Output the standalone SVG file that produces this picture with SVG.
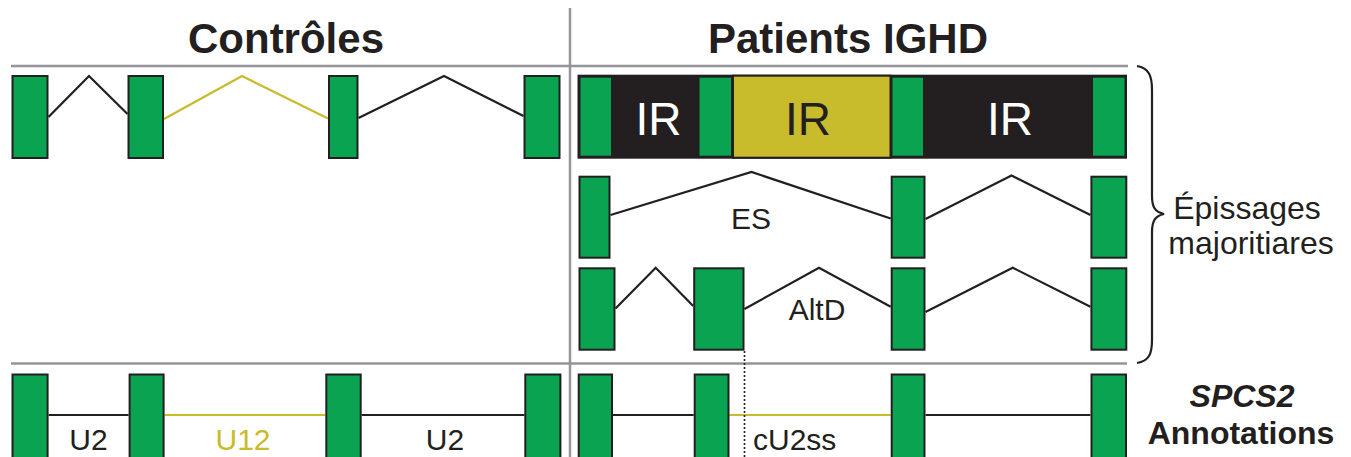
<svg xmlns="http://www.w3.org/2000/svg" width="1351" height="457" viewBox="0 0 1351 457">
<style>
.ex{fill:#0aa351;stroke:#231f20;stroke-width:2}
.ink{fill:none;stroke:#231f20;stroke-width:2.2;stroke-linejoin:miter}
.yel{fill:none;stroke:#c8bb2c;stroke-width:2.2}
.grid{stroke:#939598;stroke-width:2.5;fill:none}
.t{font-family:"Liberation Sans",Arial,sans-serif;fill:#231f20}
.title{font-size:42px;font-weight:bold;text-anchor:middle}
.lab{font-size:30px;text-anchor:middle}
</style>
<rect width="1351" height="457" fill="#ffffff"/>
<g id="dividers">
<line class="grid" x1="11" y1="66" x2="1128" y2="66"/>
<line class="grid" x1="11" y1="363.5" x2="1127" y2="363.5"/>
<line class="grid" x1="570" y1="8" x2="570" y2="457"/>
</g>
<g id="titles">
<text class="t title" x="286" y="53">Contrôles</text>
<text class="t title" x="848" y="53">Patients IGHD</text>
</g>
<g id="connectors">
<polyline class="ink" points="48.5,117 89,76 127.5,114"/>
<polyline class="yel" points="164,119 242,76 328,118.5"/>
<polyline class="ink" points="358.5,118 444,76 523.5,116"/>
<polyline class="ink" points="610.5,215 751.5,172 890.7,218.5"/>
<polyline class="ink" points="925.5,219 1011.5,175.5 1090.4,215"/>
<polyline class="ink" points="615.5,308.5 655.7,267.7 693.2,306"/>
<polyline class="ink" points="744.5,309 819,267.7 890.7,306.7"/>
<polyline class="ink" points="925.5,312 1012.7,267.7 1090.4,306.7"/>
<line class="ink" x1="48.6" y1="415" x2="128.6" y2="415"/>
<line class="yel" x1="164.6" y1="415" x2="325.3" y2="415"/>
<line class="ink" x1="361.7" y1="415" x2="524.3" y2="415"/>
<line class="ink" x1="613" y1="415" x2="693.7" y2="415"/>
<line class="yel" x1="729.5" y1="415" x2="890.7" y2="415"/>
<line class="ink" x1="925.5" y1="415" x2="1090.5" y2="415"/>
<line x1="744.5" y1="351" x2="744.5" y2="457" stroke="#231f20" stroke-width="1.6" stroke-dasharray="2,2"/>
</g>
<g id="controles-row">
<rect class="ex" x="12.5" y="76" width="35" height="82"/>
<rect class="ex" x="128.5" y="76" width="34.5" height="82"/>
<rect class="ex" x="329" y="76" width="28.5" height="82"/>
<rect class="ex" x="524.5" y="76" width="35" height="82"/>
</g>
<g id="ir-row">
<rect x="578.5" y="75.7" width="547.5" height="82" fill="#231f20" stroke="#231f20" stroke-width="2"/>
<rect x="733" y="75.7" width="157.5" height="82" fill="#c8bb2c" stroke="#231f20" stroke-width="2"/>
<rect class="ex" x="579.5" y="76.7" width="32.5" height="80"/>
<rect class="ex" x="698.5" y="76.7" width="33.5" height="80"/>
<rect class="ex" x="891.5" y="76.7" width="32.5" height="80"/>
<rect class="ex" x="1092" y="76.7" width="33.5" height="80"/>
<text class="t" x="658.5" y="135" font-size="46" text-anchor="middle" style="fill:#ffffff">IR</text>
<text class="t" x="808" y="135" font-size="46" text-anchor="middle">IR</text>
<text class="t" x="1010" y="135" font-size="46" text-anchor="middle" style="fill:#ffffff">IR</text>
</g>
<g id="es-row">
<rect class="ex" x="579.5" y="176.7" width="30" height="81"/>
<rect class="ex" x="891.7" y="176.7" width="32.8" height="81"/>
<rect class="ex" x="1091.4" y="176.7" width="34.9" height="81"/>
<text class="t lab" x="751" y="229">ES</text>
</g>
<g id="altd-row">
<rect class="ex" x="579.5" y="268.3" width="35" height="81.4"/>
<rect class="ex" x="694.2" y="268.3" width="49.3" height="81.4"/>
<rect class="ex" x="891.7" y="268.3" width="32.8" height="81.4"/>
<rect class="ex" x="1091.4" y="268.3" width="34.9" height="81.4"/>
<text class="t lab" x="817" y="320">AltD</text>
</g>
<g id="controles-annot">
<rect class="ex" x="12.5" y="374.5" width="35.1" height="90"/>
<rect class="ex" x="129.6" y="374.5" width="34" height="90"/>
<rect class="ex" x="326.3" y="374.5" width="34.4" height="90"/>
<rect class="ex" x="525.3" y="374.5" width="35.1" height="90"/>
<text class="t lab" x="88.5" y="450">U2</text>
<text class="t lab" x="243" y="450" style="fill:#c8bb2c">U12</text>
<text class="t lab" x="445" y="450">U2</text>
</g>
<g id="patients-annot">
<rect class="ex" x="578.7" y="374.5" width="33.3" height="90"/>
<rect class="ex" x="694.7" y="374.5" width="33.8" height="90"/>
<rect class="ex" x="891.7" y="374.5" width="32.8" height="90"/>
<rect class="ex" x="1091.5" y="374.5" width="34.5" height="90"/>
<text class="t" x="753" y="450" font-size="30">cU2ss</text>
</g>
<g id="brace">
<path d="M1137,66 C1149,68 1152,76 1152,90 L1152,196 C1152,207 1155,212 1164,214 C1155,216 1152,221 1152,232 L1152,340 C1152,354 1149,361 1137,363" fill="none" stroke="#231f20" stroke-width="2.2"/>
<text class="t" x="1247" y="219" font-size="32" text-anchor="middle">Épissages</text>
<text class="t" x="1251" y="254" font-size="32" text-anchor="middle">majoritiares</text>
</g>
<g id="annotations-label">
<text class="t" x="1242" y="407" font-size="32" font-weight="bold" font-style="italic" text-anchor="middle">SPCS2</text>
<text class="t" x="1241" y="444" font-size="32" font-weight="bold" text-anchor="middle">Annotations</text>
</g>
</svg>
